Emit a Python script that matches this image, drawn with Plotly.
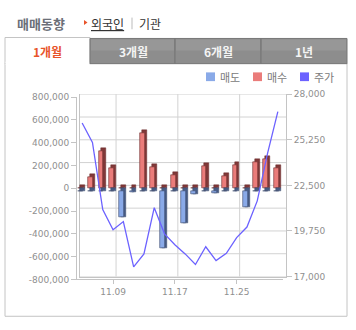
import plotly.graph_objects as go

W, H = 356, 330

# trading days shown on the category axis
dates = ['11.04', '11.07', '11.08', '11.09', '11.10', '11.11', '11.14', '11.15', '11.16', '11.17',
         '11.18', '11.21', '11.22', '11.23', '11.24', '11.25', '11.28', '11.29', '11.30', '12.01']
tick_dates = ['11.09', '11.17', '11.25']

# net buying (매수) and selling (매도) volumes
buy = [0, 98000, 326000, 181000, 0, 0, 488000, 190000, 0, 119000,
       0, 0, 196000, 0, 105000, 204000, 0, 227000, 255000, 181000]
sell = [0, 0, 0, 0, -232000, -12000, 0, 0, -508000, 0,
        -281000, -26000, 0, -20000, 0, 0, -145000, 0, 0, 0]

# closing price (주가)
price = [26440, 25270, 21210, 20000, 20490, 17760, 18540, 21330, 19750, 19090,
         18540, 17900, 18970, 18140, 18580, 19520, 20160, 21740, 24610, 27120]

vol_ticks = list(range(-800000, 800001, 200000))
price_ticks = [17000, 19750, 22500, 25250, 28000]

# pseudo-3D column geometry (category units / value units)
BAR_W = 0.47
BAR_OFF = -0.4
DEPTH_X = 0.2
DEPTH_Y = 25000
ROW_SHIFT = 21000   # sell row sits slightly in front of the buy row

RED_FACE, RED_SIDE, RED_EDGE = 'rgb(234,124,122)', 'rgb(128,56,56)', 'rgb(105,45,45)'
BLUE_FACE, BLUE_SIDE, BLUE_EDGE = 'rgb(138,170,232)', 'rgb(72,92,132)', 'rgb(58,74,108)'
LINE_C = 'rgb(108,98,255)'
NUM_FONT = dict(family='DejaVu Sans', size=9, color='#8f8f8f')
KR = 'Noto Sans CJK KR'
GRID = '#d2d2d2'
AXL = '#c4c4c4'


def px(x):
    return x / W


def py(y):
    return 1 - y / H


fig = go.Figure()

# back wall subplot (price scale, wall outline and grid)
fig.add_trace(go.Scatter(x=[], y=[], xaxis='x', yaxis='y', mode='lines',
                         showlegend=False, hoverinfo='skip'))

# buy columns: depth block then front face
fig.add_trace(go.Bar(
    x=dates, y=[abs(v) + DEPTH_Y for v in buy], base=[min(0, v) for v in buy],
    offset=BAR_OFF + DEPTH_X, width=BAR_W, xaxis='x2', yaxis='y2',
    marker=dict(color=RED_SIDE, line=dict(color=RED_EDGE, width=0.5)),
    showlegend=False, hoverinfo='skip'))
fig.add_trace(go.Bar(
    x=dates, y=buy, base=0, offset=BAR_OFF, width=BAR_W, xaxis='x2', yaxis='y2',
    name='매수', marker=dict(color=RED_FACE, line=dict(color=RED_EDGE, width=0.6)),
    showlegend=False))

# sell columns
fig.add_trace(go.Bar(
    x=dates, y=[abs(v) + DEPTH_Y for v in sell], base=[min(0, v) - ROW_SHIFT for v in sell],
    offset=BAR_OFF + DEPTH_X, width=BAR_W, xaxis='x2', yaxis='y2',
    marker=dict(color=BLUE_SIDE, line=dict(color=BLUE_EDGE, width=0.5)),
    showlegend=False, hoverinfo='skip'))
fig.add_trace(go.Bar(
    x=dates, y=sell, base=-ROW_SHIFT, offset=BAR_OFF, width=BAR_W, xaxis='x2', yaxis='y2',
    name='매도', marker=dict(color=BLUE_FACE, line=dict(color=BLUE_EDGE, width=0.6)),
    showlegend=False))

# price line
fig.add_trace(go.Scatter(
    x=dates, y=price, xaxis='x2', yaxis='y3', mode='lines', name='주가',
    line=dict(color=LINE_C, width=1.3), showlegend=False))

fig.update_layout(
    width=W, height=H,
    margin=dict(l=0, r=0, t=0, b=0),
    paper_bgcolor='white', plot_bgcolor='rgba(0,0,0,0)',
    barmode='overlay', bargap=0,
    # back wall: outline and price scale
    xaxis=dict(domain=[px(80), px(286)], anchor='y', range=[-0.5, 19.5],
               showticklabels=False, ticks='', showgrid=False,
               showline=True, linecolor=AXL, zeroline=False, fixedrange=True),
    yaxis=dict(domain=[py(280), py(92)], anchor='x', side='right',
               range=[17000, 28000], tickvals=price_ticks,
               ticktext=[f'{v:,}' for v in price_ticks],
               ticks='outside', ticklen=5, tickcolor='#c4c4c4', showgrid=False,
               showline=True, mirror=True, linecolor=AXL, zeroline=False,
               tickfont=NUM_FONT, fixedrange=True),
    # front plane: columns and volume scale
    xaxis2=dict(domain=[px(77), px(283)], anchor='y2', type='category',
                categoryorder='array', categoryarray=dates, range=[-0.5, 19.5],
                tickvals=tick_dates, ticktext=tick_dates,
                ticks='outside', ticklen=4, tickcolor='#c4c4c4',
                showgrid=False, showline=True, linecolor=AXL,
                zeroline=False, tickfont=NUM_FONT, fixedrange=True),
    yaxis2=dict(domain=[py(283), py(95)], anchor='x2',
                range=[-800000, 800000], tickvals=vol_ticks,
                ticktext=[f'{v:,}' for v in vol_ticks],
                ticks='outside', ticklen=5, tickcolor='#c4c4c4',
                showgrid=False, showline=True, linecolor=AXL,
                zeroline=False, tickfont=NUM_FONT, fixedrange=True),
    yaxis3=dict(overlaying='y2', anchor='x2', range=[17000, 28000],
                visible=False, fixedrange=True),
)

shapes = []
annotations = []

# back-wall grid: one horizontal rule per volume step, vertical rules at the date ticks
grid_levels = [17000 + (28000 - 17000) * k / (len(vol_ticks) - 1) for k in range(len(vol_ticks))]
for lvl in grid_levels:
    shapes.append(dict(type='line', xref='x domain', yref='y', layer='below',
                       x0=0, x1=1, y0=lvl, y1=lvl, line=dict(color=GRID, width=1)))
for d in tick_dates:
    shapes.append(dict(type='line', xref='x', yref='y domain', layer='below',
                       x0=dates.index(d), x1=dates.index(d), y0=0, y1=1,
                       line=dict(color=GRID, width=1)))

# outer panel and tab strip
shapes.append(dict(type='rect', xref='paper', yref='paper', layer='below',
                   x0=px(5), x1=px(347), y0=py(321), y1=py(60),
                   line=dict(color='#c4c4c4', width=1)))
shapes.append(dict(type='rect', xref='paper', yref='paper', layer='below',
                   x0=px(5), x1=px(90), y0=py(60.5), y1=py(33.5),
                   line=dict(color='#c4c4c4', width=1), fillcolor='white'))
shapes.append(dict(type='rect', xref='paper', yref='paper', layer='below',
                   x0=px(5.6), x1=px(89.4), y0=py(62), y1=py(58.5),
                   line=dict(width=0), fillcolor='white'))
tab_edges = [90, 175, 261, 347]
for a, b in zip(tab_edges[:-1], tab_edges[1:]):
    shapes.append(dict(type='rect', xref='paper', yref='paper', layer='below',
                       x0=px(a), x1=px(b), y0=py(60.5), y1=py(34.5),
                       line=dict(color='#777777', width=1), fillcolor='#8d8d8d'))
    shapes.append(dict(type='rect', xref='paper', yref='paper', layer='below',
                       x0=px(a + 1), x1=px(b - 1), y0=py(47), y1=py(35.5),
                       line=dict(width=0), fillcolor='#979797'))

tab_labels = ['1개월', '3개월', '6개월', '1년']
tab_centers = [47.5, 133, 218.5, 304]
for i, (lab, cx) in enumerate(zip(tab_labels, tab_centers)):
    annotations.append(dict(xref='paper', yref='paper', x=px(cx), y=py(48),
                            text=lab, showarrow=False, xanchor='center', yanchor='middle',
                            font=dict(family=KR, size=12, weight='bold',
                                      color='#e8542a' if i == 0 else '#f4f4f4')))

# heading and investor selector
annotations.append(dict(xref='paper', yref='paper', x=px(15), y=py(19.5),
                        text='매매동향', showarrow=False, xanchor='left', yanchor='middle',
                        font=dict(family=KR, size=13, weight='bold', color='#6b6f78')))
shapes.append(dict(type='path', xref='paper', yref='paper',
                   path=f'M {px(84)},{py(15.5)} L {px(87.5)},{py(18)} L {px(84)},{py(20.5)} Z',
                   fillcolor='#e8542a', line=dict(width=0)))
annotations.append(dict(xref='paper', yref='paper', x=px(89), y=py(19),
                        text='<u>외국인</u>', showarrow=False, xanchor='left', yanchor='middle',
                        font=dict(family=KR, size=12, color='#333333')))
shapes.append(dict(type='line', xref='paper', yref='paper',
                   x0=px(132), x1=px(132), y0=py(13), y1=py(25),
                   line=dict(color='#bbbbbb', width=1)))
annotations.append(dict(xref='paper', yref='paper', x=px(137), y=py(19),
                        text='기관', showarrow=False, xanchor='left', yanchor='middle',
                        font=dict(family=KR, size=12, color='#333333')))

# legend
legend_items = [('매도', BLUE_FACE, 206), ('매수', RED_FACE, 253), ('주가', LINE_C, 300)]
for lab, col, x0 in legend_items:
    shapes.append(dict(type='rect', xref='paper', yref='paper',
                       x0=px(x0), x1=px(x0 + 9), y0=py(78.5), y1=py(69.5),
                       fillcolor=col, line=dict(width=0)))
    annotations.append(dict(xref='paper', yref='paper', x=px(x0 + 12), y=py(74),
                            text=lab, showarrow=False, xanchor='left', yanchor='middle',
                            font=dict(family=KR, size=11, color='#7a7a7a')))

fig.update_layout(shapes=shapes, annotations=annotations)

fig.write_html('out.html', config=dict(displayModeBar=False))
